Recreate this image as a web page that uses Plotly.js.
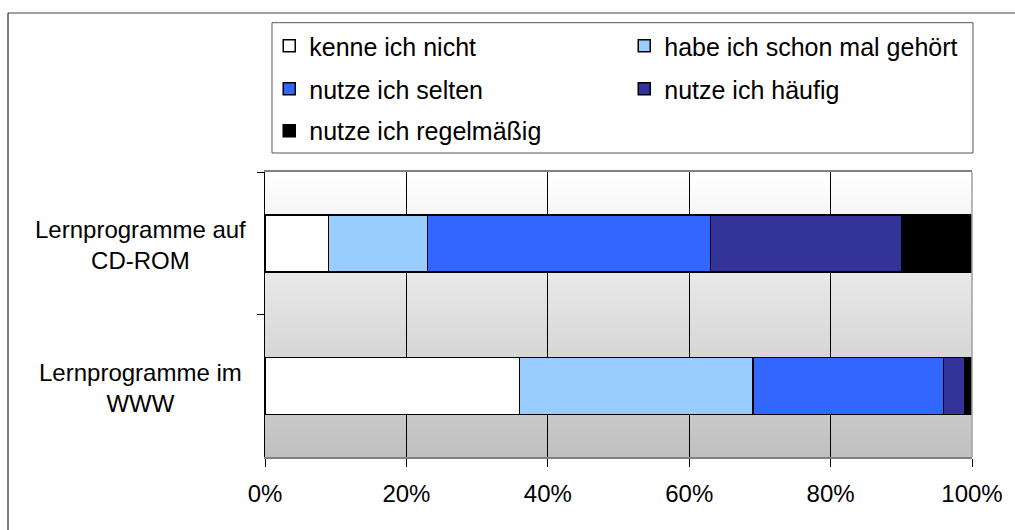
<!DOCTYPE html>
<html>
<head>
<meta charset="utf-8">
<script src="https://cdn.plot.ly/plotly-3.0.1.min.js"></script>
<style>
  html, body { margin: 0; padding: 0; background: #ffffff; }
  #chart { width: 1015px; height: 530px; }
</style>
</head>
<body>
<div id="chart"></div>
<script>
// ---- data ----
const categories = ["Lernprogramme auf<br>CD-ROM", "Lernprogramme im<br>WWW"];
const seriesNames = ["kenne ich nicht", "habe ich schon mal gehört", "nutze ich selten", "nutze ich häufig", "nutze ich regelmäßig"];
const kenneNicht   = [9, 36];
const schonGehoert = [14, 33];
const selten       = [40, 27];
const haeufig      = [27, 3];
const regelmaessig = [10, 1];
const seriesColors = ["#ffffff", "#99ccff", "#3366ff", "#333399", "#000000"];
const xTickVals = [0, 20, 40, 60, 80, 100];
const xTickText = ["0%", "20%", "40%", "60%", "80%", "100%"];

const seriesValues = [kenneNicht, schonGehoert, selten, haeufig, regelmaessig];
const legendIds = ["legend", "legend", "legend2", "legend2", "legend3"];

const FONT = "Liberation Sans, Arial, sans-serif";

const traces = seriesNames.map((name, i) => ({
  type: "bar",
  orientation: "h",
  name: name,
  x: seriesValues[i],
  y: categories,
  legend: legendIds[i],
  marker: { color: seriesColors[i], line: { color: "#000000", width: 1.5 } },
  hoverinfo: "x+name"
}));

const gradSvg = '<svg xmlns="http://www.w3.org/2000/svg" width="100" height="100" preserveAspectRatio="none">' +
  '<defs><linearGradient id="g" x1="0" y1="0" x2="0" y2="1">' +
  '<stop offset="0" stop-color="#ffffff"/><stop offset="1" stop-color="#c0c0c0"/>' +
  '</linearGradient></defs><rect width="100" height="100" fill="url(#g)"/></svg>';
const gradUri = "data:image/svg+xml;charset=utf-8," + encodeURIComponent(gradSvg);

const legendBase = {
  orientation: "h",
  bgcolor: "rgba(0,0,0,0)",
  borderwidth: 0,
  font: { family: FONT, size: 25, color: "#000000" },
  entrywidth: 310,
  entrywidthmode: "pixels",
  traceorder: "normal",
  xanchor: "left",
  yanchor: "middle",
  itemclick: false,
  itemdoubleclick: false
};

const layout = {
  width: 1015,
  height: 530,
  margin: { l: 265, r: 43, t: 172, b: 73 },
  paper_bgcolor: "#ffffff",
  plot_bgcolor: "#ffffff",
  barmode: "stack",
  bargap: 0.6,
  font: { family: FONT, size: 24, color: "#000000" },
  showlegend: true,
  legend:  Object.assign({}, legendBase, { x: 0.006, y: 1.442 }),
  legend2: Object.assign({}, legendBase, { x: 0.006, y: 1.291 }),
  legend3: Object.assign({}, legendBase, { x: 0.006, y: 1.144 }),
  xaxis: {
    range: [0, 100],
    tickvals: xTickVals,
    ticktext: xTickText,
    ticks: "outside",
    ticklen: 8,
    tickcolor: "#000000",
    tickwidth: 1,
    ticklabelstandoff: 6,
    showgrid: true,
    gridcolor: "#000000",
    gridwidth: 1,
    zeroline: false,
    showline: true,
    linecolor: "#808080",
    linewidth: 1.5,
    mirror: true,
    tickfont: { family: FONT, size: 24, color: "#000000" },
    fixedrange: true
  },
  yaxis: {
    type: "category",
    autorange: "reversed",
    showticklabels: false,
    ticks: "outside",
    tickson: "boundaries",
    ticklen: 7,
    tickcolor: "#000000",
    showgrid: false,
    zeroline: false,
    showline: true,
    linecolor: "#000000",
    linewidth: 1,
    fixedrange: true
  },
  images: [{
    source: gradUri,
    xref: "paper", yref: "paper",
    x: 0, y: 1, sizex: 1, sizey: 1,
    xanchor: "left", yanchor: "top",
    sizing: "stretch",
    layer: "below"
  }],
  annotations: categories.map(c => ({
    text: c,
    xref: "paper", yref: "y",
    x: -0.1768, y: c,
    yshift: -2,
    xanchor: "center", yanchor: "middle",
    align: "center",
    showarrow: false,
    font: { family: FONT, size: 24, color: "#000000" }
  })),
  shapes: [
    // right border of plot area
    { type: "line", xref: "paper", yref: "paper", x0: 1, x1: 1, y0: 0, y1: 1,
      line: { color: "#a0a0a0", width: 1.5 }, layer: "above" },
    // legend box
    { type: "rect", xref: "paper", yref: "paper", x0: 0.0099, x1: 1.0014, y0: 1.0667, y1: 1.5239,
      line: { color: "#555555", width: 1 }, fillcolor: "rgba(0,0,0,0)" },
    // outer frame (top and left)
    { type: "line", xref: "paper", yref: "paper", x0: -0.3635, x1: 1.2, y0: 1.5579, y1: 1.5579,
      line: { color: "#808080", width: 1.5 } },
    { type: "line", xref: "paper", yref: "paper", x0: -0.3635, x1: -0.3635, y0: -0.5, y1: 1.5579,
      line: { color: "#000000", width: 1 } }
  ]
};

Plotly.newPlot("chart", traces, layout, { displayModeBar: false, staticPlot: false, responsive: false });
</script>
</body>
</html>
